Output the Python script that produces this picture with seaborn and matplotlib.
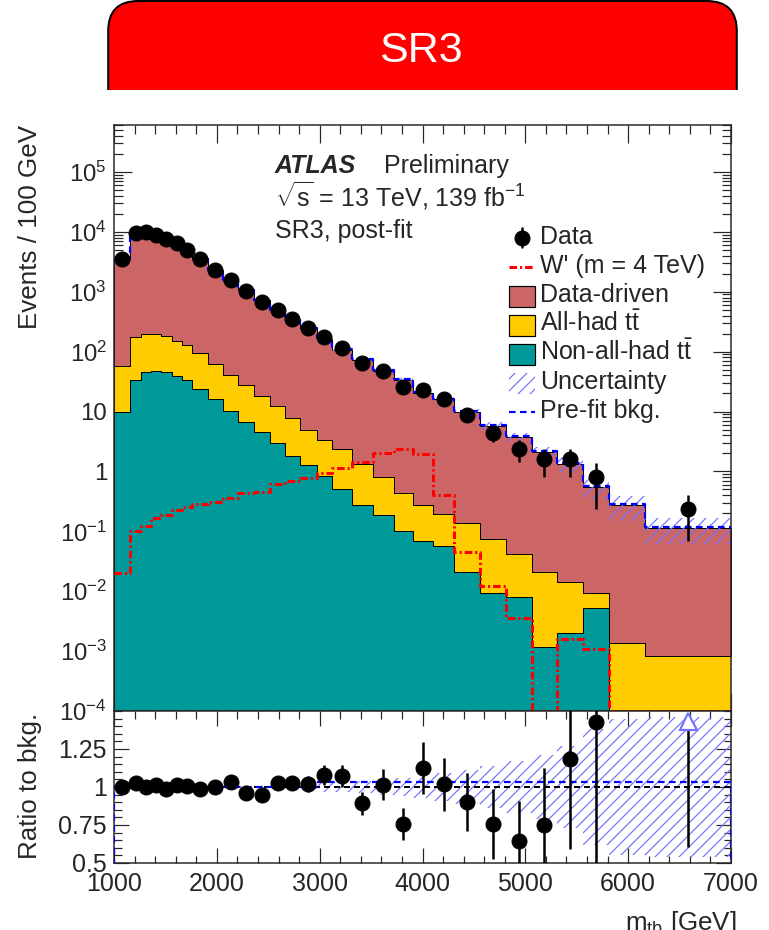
import numpy as np
import pandas as pd
import matplotlib
matplotlib.use("Agg")
import matplotlib.pyplot as plt
from matplotlib.patches import FancyBboxPatch, Rectangle
from matplotlib.ticker import (FixedLocator, FixedFormatter, MultipleLocator,
                               LogLocator, NullFormatter)
import seaborn as sns

# ---------------------------------------------------------------- data
# m_tb bin edges [GeV]
edges = [1000, 1160, 1260, 1360, 1460, 1560, 1660, 1760, 1910, 2060, 2210,
         2360, 2520, 2660, 2810, 2970, 3120, 3310, 3520, 3720, 3910, 4100,
         4310, 4560, 4810, 5060, 5310, 5560, 5810, 6160, 7000]

# observed events / 100 GeV (0 = empty bin)
data = [3500, 9500, 9750, 8900, 7550, 6470, 5010, 3500, 2330, 1585, 1010,
        680, 501, 351, 251, 176, 115, 65, 48, 25.8, 22.6, 16.2, 8.8, 4.4,
        2.4, 1.6, 1.6, 0.8, 0.0, 0.238]

# post-fit background components, events / 100 GeV
data_driven = [3443, 9101, 9530, 8603, 7454, 6248, 4847, 3446, 2272, 1490,
               1026, 701.5, 476.7, 333.2, 241, 159.6, 104.7, 71.5, 46.5,
               33.66, 19.82, 15.70, 9.64, 5.73, 3.67, 2.11, 1.335, 0.55,
               0.270, 0.114]
all_had_tt = [47.1, 143, 155, 152, 135, 113, 95, 69, 47, 30.9, 21.4, 14.0,
              9.3, 6.0, 3.74, 2.56, 1.82, 1.03, 0.61, 0.339, 0.211, 0.140,
              0.118, 0.066, 0.0333, 0.0198, 0.0125, 0.0042, 0.00134,
              0.00084]
non_all_had_tt = [9.9, 33, 45, 48, 45, 39, 33, 24, 16, 10.1, 6.6, 4.5, 3.0,
                  1.80, 1.26, 0.84, 0.51, 0.28, 0.19, 0.101, 0.069, 0.057,
                  0.021, 0.0095, 0.0081, 0.00118, 0.0020, 0.0053, 0.0, 0.0]

# W' (m = 4 TeV) signal, events / 100 GeV
signal = [0.020, 0.101, 0.123, 0.165, 0.185, 0.227, 0.255, 0.29, 0.31,
          0.364, 0.44, 0.46, 0.61, 0.68, 0.78, 0.93, 1.15, 1.45, 2.02, 2.4,
          1.92, 0.41, 0.046, 0.012, 0.00355, 0.0, 0.00158, 0.00108, 0.0, 0.0]

# relative background uncertainty per bin
rel_unc = [0.005, 0.005, 0.005, 0.005, 0.005, 0.005, 0.005, 0.006, 0.006,
           0.008, 0.008, 0.008, 0.009, 0.009, 0.01, 0.03, 0.035, 0.04, 0.05,
           0.06, 0.07, 0.09, 0.11, 0.14, 0.17, 0.21, 0.27, 0.38, 0.45, 0.46]

# pre-fit / post-fit background
prefit_ratio = [1.0] * 15 + [1.035] * 15

process_names = ["Data-driven", "All-had t$\\bar{\\mathrm{t}}$",
                 "Non-all-had t$\\bar{\\mathrm{t}}$"]
process_colors = ["#cc6666", "#ffcc00", "#009999"]
band_color = "#7373ff"

# ---------------------------------------------------------------- style
sns.set_style("ticks")
plt.rcParams["font.family"] = ["Liberation Sans", "DejaVu Sans"]
plt.rcParams["mathtext.fontset"] = "custom"
plt.rcParams["mathtext.rm"] = "Liberation Sans"
plt.rcParams["mathtext.it"] = "Liberation Sans:italic"
plt.rcParams["mathtext.bf"] = "Liberation Sans:bold"
plt.rcParams["mathtext.sf"] = "Liberation Sans"
plt.rcParams["hatch.linewidth"] = 1.2
plt.rcParams["hatch.color"] = band_color
HATCH = "//"

bin_list = list(edges)
edges = np.array(edges, float)
centers = 0.5 * (edges[:-1] + edges[1:])
widths = np.diff(edges)
data = np.array(data)
dd = np.array(data_driven)
ah = np.array(all_had_tt)
nah = np.array(non_all_had_tt)
sig = np.array(signal)
unc = np.array(rel_unc)
pre = np.array(prefit_ratio)

total = dd + ah + nah
counts = data * widths / 100.0
has_data = counts > 0
data_err = np.where(has_data, data / np.sqrt(np.where(has_data, counts, 1)), 0)

YMIN, YMAX = 1e-4, 6.07e5

W, H = 769, 930
fig = plt.figure(figsize=(W / 72, H / 72), dpi=72)


def fx(px):
    return px / W


def fy(py):
    return 1 - py / H


L, R = 114, 731
ax = fig.add_axes([fx(L), fy(711), (R - L) / W, (711 - 125) / H])
axr = fig.add_axes([fx(L), fy(863), (R - L) / W, (863 - 711) / H], sharex=ax)

# ---------------------------------------------------------------- main panel
stack = pd.DataFrame({
    "mtb": np.tile(centers, 3),
    "events": np.concatenate([dd, ah, nah]),
    "process": np.repeat(process_names, len(centers)),
})
sns.histplot(data=stack, x="mtb", weights="events", hue="process",
             hue_order=process_names, palette=dict(zip(process_names, process_colors)),
             bins=bin_list, multiple="stack", element="step", fill=True, alpha=1,
             edgecolor="black", linewidth=1.0, legend=False, ax=ax)

ax.set_yscale("log")

# background uncertainty
lo = total * (1 - unc)
hi = total * (1 + unc)
ax.fill_between(edges, np.append(lo, lo[-1]), np.append(hi, hi[-1]), step="post",
                facecolor="none", edgecolor=band_color, linewidth=0,
                hatch=HATCH, zorder=2)

# signal (empty bins drawn on the axis floor)
sns.histplot(x=centers, weights=np.where(sig > 0, sig, YMIN), bins=bin_list,
             element="step", fill=False, color="#ff0000", linewidth=3,
             linestyle=(0, (2.5, 1.0, 0.7, 1.0)), ax=ax, zorder=3)

# pre-fit background
sns.histplot(x=centers, weights=total * pre, bins=bin_list, element="step",
             fill=False, color="#0000ff", linewidth=2.2,
             linestyle=(0, (3.0, 2.0)), ax=ax, zorder=3)

# data
ax.errorbar(centers[has_data], data[has_data], yerr=data_err[has_data],
            fmt="o", color="black", ms=15, elinewidth=2.5, capsize=0, zorder=5)

ax.set_xlim(1000, 7000)
ax.set_ylim(YMIN, YMAX)
ax.set_xlabel("")
ax.set_ylabel("")

ydec = [1e-4, 1e-3, 1e-2, 1e-1, 1, 10, 1e2, 1e3, 1e4, 1e5]
ylab = ["$10^{-4}$", "$10^{-3}$", "$10^{-2}$", "$10^{-1}$", "1", "10",
        "$10^{2}$", "$10^{3}$", "$10^{4}$", "$10^{5}$"]
ax.yaxis.set_major_locator(FixedLocator(ydec))
ax.yaxis.set_major_formatter(FixedFormatter(ylab))
ax.yaxis.set_minor_locator(LogLocator(base=10, subs=np.arange(2, 10), numticks=40))
ax.yaxis.set_minor_formatter(NullFormatter())
ax.xaxis.set_major_locator(MultipleLocator(1000))
ax.xaxis.set_minor_locator(MultipleLocator(200))
ax.tick_params(which="both", direction="in", top=True, right=True,
               labelbottom=False, width=1.2, pad=7, labelsize=24)
ax.tick_params(which="major", length=18)
ax.tick_params(which="minor", length=9)
for s in ax.spines.values():
    s.set_linewidth(1.5)

# ---------------------------------------------------------------- ratio panel
rlo = np.append(1 - unc, 1 - unc[-1])
rhi = np.append(1 + unc, 1 + unc[-1])
axr.fill_between(edges, rlo, rhi, step="post", facecolor="none",
                 edgecolor=band_color, linewidth=0, hatch=HATCH, zorder=1)
axr.axhline(1.0, color="black", linewidth=2, linestyle=(0, (3.0, 2.0)), zorder=2)
axr.stairs(pre, edges, color="#0000ff", linewidth=2.2,
           linestyle=(0, (3.0, 2.0)), zorder=3)

ratio = np.where(has_data, data / total, np.nan)
ratio_err = data_err / total
RMIN, RMAX = 0.5, 1.5
inside = has_data & (ratio <= RMAX)
axr.errorbar(centers[inside], ratio[inside], yerr=ratio_err[inside], fmt="o",
             color="black", ms=15, elinewidth=2.5, capsize=0, zorder=5)
# points above the range: error line plus an arrow at the top edge
above = has_data & (ratio > RMAX)
arrow_base = RMAX - 0.125
axr.vlines(centers[above], ratio[above] - ratio_err[above], arrow_base,
           color="black", linewidth=2.5, zorder=4)
axr.plot(centers[above], np.full(above.sum(), RMAX - 0.065), linestyle="none",
         marker="^", ms=17, mfc="white", mec=band_color, mew=2.2, zorder=6)

axr.set_ylim(RMIN, RMAX)
axr.set_xlim(1000, 7000)
axr.yaxis.set_major_locator(FixedLocator([0.5, 0.75, 1.0, 1.25]))
axr.yaxis.set_major_formatter(FixedFormatter(["0.5", "0.75", "1", "1.25"]))
axr.yaxis.set_minor_locator(MultipleLocator(0.05))
axr.xaxis.set_major_locator(MultipleLocator(1000))
axr.xaxis.set_minor_locator(MultipleLocator(200))
axr.tick_params(which="both", direction="in", top=True, right=True, width=1.2,
                labelsize=25)
axr.tick_params(axis="y", pad=7)
axr.tick_params(axis="x", pad=9)
axr.tick_params(which="major", length=15)
axr.tick_params(which="minor", length=7.5)
for s in axr.spines.values():
    s.set_linewidth(1.5)

# ---------------------------------------------------------------- axis titles
fig.text(fx(37), fy(125), "Events / 100 GeV", rotation=90, rotation_mode="anchor",
         ha="right", va="baseline", fontsize=26)
fig.text(fx(37), fy(713), "Ratio to bkg.", rotation=90, rotation_mode="anchor",
         ha="right", va="baseline", fontsize=26)
fig.text(fx(737), fy(930), "m$_{\\mathrm{tb}}$ [GeV]", ha="right",
         va="baseline", fontsize=26)

# ---------------------------------------------------------------- overlay: labels + legend
lay = fig.add_axes([0, 0, 1, 1], zorder=10)
lay.set_xlim(0, W)
lay.set_ylim(H, 0)
lay.axis("off")

lay.text(275, 173, "ATLAS", fontsize=25, fontweight="bold", fontstyle="italic",
         va="baseline")
lay.text(384, 173, "Preliminary", fontsize=25, va="baseline")
lay.text(275, 207, "$\\sqrt{\\mathrm{s}}$ = 13 TeV, 139 fb$^{-1}$", fontsize=25,
         va="baseline")
lay.text(275, 238, "SR3, post-fit", fontsize=25, va="baseline")

rows = [238, 267, 296, 325, 354, 383, 412]
labels = ["Data", "W' (m = 4 TeV)", process_names[0], process_names[1],
          process_names[2], "Uncertainty", "Pre-fit bkg."]
hx0, hx1 = 509, 535
# Data
lay.plot([522, 522], [rows[0] - 10, rows[0] + 9], color="black", lw=2.5)
lay.plot([522], [rows[0]], "o", color="black", ms=15)
# W'
lay.plot([hx0, hx1], [rows[1], rows[1]], color="#ff0000", lw=3,
         linestyle=(0, (2.5, 1.0, 0.7, 1.0)))
# stack components
for r, c in zip(rows[2:5], process_colors):
    lay.add_patch(Rectangle((hx0, r - 10.5), hx1 - hx0, 21, facecolor=c,
                            edgecolor="black", linewidth=1.2))
# uncertainty
lay.add_patch(Rectangle((hx0, rows[5] - 10.5), hx1 - hx0, 21, facecolor="none",
                        edgecolor=band_color, linewidth=0, hatch=HATCH))
# pre-fit
lay.plot([hx0, hx1], [rows[6], rows[6]], color="#0000ff", lw=2.2,
         linestyle=(0, (3.0, 2.0)))
for r, t in zip(rows, labels):
    lay.text(540, r + 6, t, fontsize=25, va="baseline")

# ---------------------------------------------------------------- region banner
axb = fig.add_axes([fx(107), fy(90), (738 - 107) / W, 90 / H])
axb.set_xlim(0, 631)
axb.set_ylim(0, 90)
axb.axis("off")
banner = FancyBboxPatch((1.2, -60), 628.6, 149, boxstyle="round,pad=0,rounding_size=30",
                        facecolor="#ff0000", edgecolor="black", linewidth=2)
axb.add_patch(banner)
banner.set_clip_path(axb.patch)
axb.text(314, 28, "SR3", color="white", fontsize=43, ha="center", va="baseline")

fig.savefig("out.png", dpi=72)
